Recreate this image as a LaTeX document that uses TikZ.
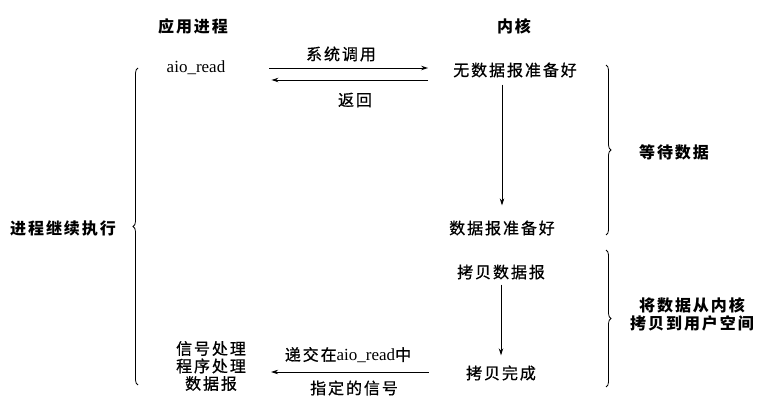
\documentclass[tikz,border=0pt]{standalone}
\usepackage{fontspec}
\setmainfont{Liberation Serif}
\newfontfamily\cjk[LetterSpace=12,FakeBold=0.8]{Noto Sans CJK SC}
\newfontfamily\cjkb[LetterSpace=12]{Noto Sans CJK SC}
\usetikzlibrary{arrows.meta,decorations.pathreplacing,calc}
\tikzset{
  lbl/.style={inner sep=0pt, font=\cjk\fontsize{16}{18}\selectfont, align=center},
  ttl/.style={inner sep=0pt, font=\cjkb\bfseries\fontsize{16}{18}\selectfont, align=center},
  lat/.style={inner sep=0pt, font=\rmfamily\fontsize{17}{18}\selectfont},
  arr/.style={-{Stealth[length=7pt,width=4.5pt]}, line width=0.8pt},
  brc/.style={decorate, decoration={brace, amplitude=5pt}, line width=0.8pt},
}
\newcommand{\aior}{{\rmfamily\fontsize{17}{18}\selectfont aio\_read}}
\begin{document}
\begin{tikzpicture}[x=1pt,y=-1pt]
\useasboundingbox (0,0) rectangle (760,414);
% titles
\node[ttl] (t1) at (193,26) {应用进程};
\node[ttl] (t2) at (514,26) {内核};
% left column
\node[lat] (aio) at (196,68) {aio\_read};
\node[lbl, font=\cjk\fontsize{16}{17.5}\selectfont] (sig) at (211,366) {信号处理\\程序处理\\数据报};
% kernel column
\node[lbl] (nd) at (515,70) {无数据报准备好};
\node[lbl] (dr) at (502,228) {数据报准备好};
\node[lbl] (cp) at (501,272) {拷贝数据报};
\node[lbl] (done) at (501,373) {拷贝完成};
% arrow labels
\node[lbl] (sc) at (341,54) {系统调用};
\node[lbl] (ret) at (355,100) {返回};
\node[lbl] (dlv) at (348,355) {递交在\aior 中};
\node[lbl] (spec) at (354,388) {指定的信号};
% brace labels
\node[ttl] (cont) at (63,228) {进程继续执行};
\node[ttl] (wait) at (674,152) {等待数据};
\node[ttl] (copy) at (692,314) {将数据从内核\\拷贝到用户空间};
% arrows
\coordinate (a1) at ($(aio.east)+(44,0)$);
\coordinate (a2) at ($(nd.west |- aio.east)+(-25,0)$);
\draw[arr] (a1) -- (a2);
\draw[arr] ($(a2)+(0,12)$) -- ($(a1)+(2,12)$);
\draw[arr, shorten <=7pt, shorten >=15pt] (dr.north |- nd.south) -- (dr.north);
\draw[arr, shorten <=5pt, shorten >=10pt] (cp.south) -- (cp.south |- done.north);
\draw[arr] ($(done.west)+(-37,-1)$) -- ($(sig.east |- done.west)+(25,-1)$);
% braces
\draw[brc] (138,385) -- (138,68);
\draw[brc] (606,65) -- (606,235);
\draw[brc] (606,250) -- (606,387);
\end{tikzpicture}
\end{document}
